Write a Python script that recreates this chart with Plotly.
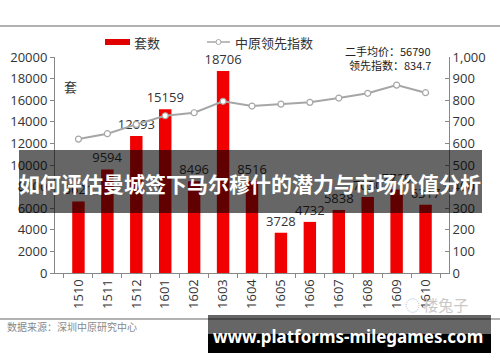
import plotly.graph_objects as go

months = ["1510", "1511", "1512", "1601", "1602", "1603", "1604",
          "1605", "1606", "1607", "1608", "1609", "1610"]
units = [6621, 9594, 12693, 15159, 8496, 18706, 8516,
         3728, 4732, 5838, 7030, 7729, 6317]
index_vals = [620, 645, 688, 728, 742, 795, 773,
              782, 790, 810, 832, 870, 834.7]

FONT = "Open Sans"
CJK = "Noto Sans CJK SC"

fig = go.Figure()
fig.add_trace(go.Bar(
    x=months, y=units, marker_color="#f00000", marker_line_width=0,
    text=[str(v) for v in units], textposition="outside",
    constraintext="none",
    textfont=dict(size=13, color="#333", family=FONT),
    cliponaxis=False, showlegend=False, yaxis="y"))
fig.add_trace(go.Scatter(
    x=months, y=index_vals, mode="lines+markers", yaxis="y2",
    line=dict(color="#a6a6a6", width=2),
    marker=dict(symbol="circle", size=6, color="white",
                line=dict(color="#a6a6a6", width=1.2)),
    showlegend=False))

fig.update_layout(
    width=500, height=362,
    margin=dict(l=55, r=51, t=57, b=89),
    paper_bgcolor="white", plot_bgcolor="white",
    bargap=0.57,
    font=dict(family=FONT, size=13, color="#333"),
    xaxis=dict(type="category", showline=True, linecolor="#888", linewidth=1,
               ticks="outside", tickson="boundaries", ticklen=4, tickcolor="#888",
               tickangle=-90, tickfont=dict(size=13, color="#333"),
               showgrid=False, automargin=False),
    yaxis=dict(range=[0, 20000], dtick=2000, tickformat="d", showgrid=False,
               showline=True, linecolor="#888", linewidth=1, ticks="outside",
               ticklen=4, tickcolor="#888", zeroline=False, automargin=False,
               tickfont=dict(size=13, color="#333")),
    yaxis2=dict(range=[0, 1000], dtick=100, tickformat=",d", overlaying="y",
                side="right", showgrid=False, showline=True, linecolor="#888",
                linewidth=1, ticks="inside", ticklen=4, tickcolor="#888",
                zeroline=False, automargin=False,
                tickfont=dict(size=13, color="#333")),
)

def px(x):
    return (x - 55) / 394.0

def py(y):
    return (273 - y) / 216.0

shapes = [
    dict(type="line", xref="paper", yref="paper", x0=px(0), x1=px(500),
         y0=py(26), y1=py(26), line=dict(color="#999", width=1.5)),
    dict(type="line", xref="paper", yref="paper", x0=px(0), x1=px(500),
         y0=py(319), y1=py(319), line=dict(color="#999", width=1.5)),
]
annotations = []

def note(x, y, text, size, color, family=CJK, anchor="center"):
    annotations.append(dict(xref="paper", yref="paper", x=px(x), y=py(y),
                            text=text, showarrow=False, xanchor=anchor,
                            yanchor="middle",
                            font=dict(family=family, size=size, color=color)))

# legend
shapes.append(dict(type="rect", xref="paper", yref="paper",
                   x0=px(105), x1=px(130), y0=py(45), y1=py(39),
                   fillcolor="#e00000", line_width=0))
note(132, 42, "套数", 13, "#333", anchor="left")
shapes.append(dict(type="line", xref="paper", yref="paper",
                   x0=px(207), x1=px(230), y0=py(42), y1=py(42),
                   line=dict(color="#a6a6a6", width=1.5)))
shapes.append(dict(type="circle", xref="paper", yref="paper",
                   x0=px(216), x1=px(221), y0=py(44.5), y1=py(39.5),
                   fillcolor="white", line=dict(color="#a6a6a6", width=1)))
note(233, 42, "中原领先指数", 13, "#333", anchor="left")

note(433, 51, "二手均价：56790", 11, "#222", anchor="right")
note(433, 65, "领先指数：834.7", 11, "#222", anchor="right")
note(70, 86, "套", 13, "#333")
note(5, 326, "数据来源：深圳中原研究中心", 10, "#888", anchor="left")
note(470, 304, "◌ 楼兔子", 15, "#c8c8c8", anchor="right")

# title banner
shapes.append(dict(type="rect", xref="paper", yref="paper",
                   x0=px(19), x1=px(482), y0=py(213), y1=py(150),
                   fillcolor="rgba(0,0,0,0.6)", line_width=0))
note(250, 183, "<b>如何评估曼城签下马尔穆什的潜力与市场价值分析</b>", 21, "white")

# watermark banner
shapes.append(dict(type="rect", xref="paper", yref="paper",
                   x0=px(208), x1=px(491), y0=py(334), y1=py(315),
                   fillcolor="rgba(0,0,0,0.6)", line_width=0))
shapes.append(dict(type="rect", xref="paper", yref="paper",
                   x0=px(208), x1=px(491), y0=py(353), y1=py(334),
                   fillcolor="black", line_width=0))
note(348, 336, "<b>www.platforms-milegames.com</b>", 17, "white", family="Noto Sans")

fig.update_layout(shapes=shapes, annotations=annotations)
fig.write_html("out.html", config={"displayModeBar": False})

with open("out.html", "r", encoding="utf-8") as f:
    html = f.read()
html = html.replace("<head>", "<head><style>html,body{margin:0;padding:0;overflow:hidden;}</style>", 1)
with open("out.html", "w", encoding="utf-8") as f:
    f.write(html)
